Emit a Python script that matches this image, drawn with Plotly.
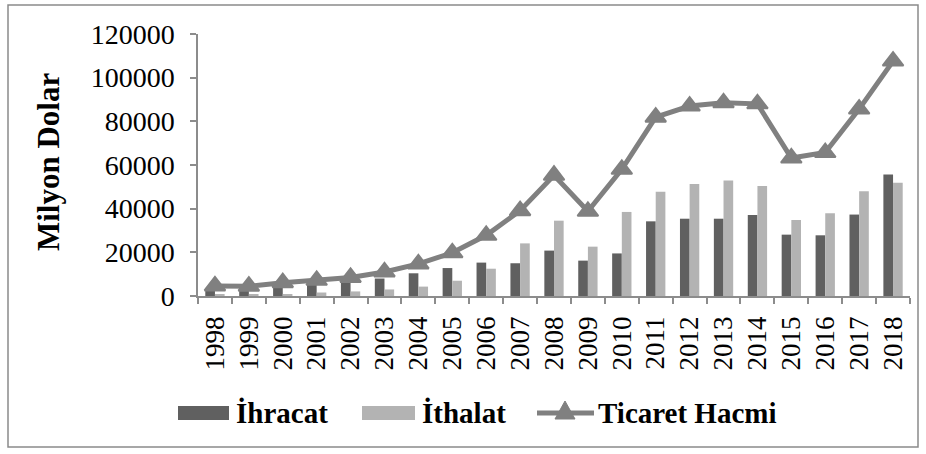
import plotly.graph_objects as go

years = [str(y) for y in range(1998, 2019)]
ihracat = [3700, 3800, 5200, 5600, 6400, 8000, 10400, 12800, 15300, 15000, 20800,
           16200, 19500, 34200, 35400, 35400, 37100, 28100, 27800, 37300, 55600]
ithalat = [900, 700, 900, 1600, 2100, 3000, 4300, 7000, 12500, 24100, 34500,
           22600, 38500, 47700, 51300, 52900, 50400, 34800, 37900, 48000, 51900]
ticaret = [4600, 4500, 6100, 7200, 8500, 11000, 14700, 19800, 27800, 39100, 55300,
           38800, 58000, 81900, 87000, 88500, 88000, 63200, 65700, 85600, 107600]
y_ticks = [0, 20000, 40000, 60000, 80000, 100000, 120000]
series_names = ["İhracat", "İthalat", "Ticaret Hacmi"]
colors = ["#606060", "#b3b3b3", "#808080"]

FONT = "Liberation Serif"
AXIS_GRAY = "#8c8c8c"

# plot area in pixels (for paper-coordinate decorations)
L, R, T, B = 198, 910, 34, 296
W, H = 926, 454


def px(x):
    return (x - L) / (R - L)


def py(y):
    return (B - y) / (B - T)


fig = go.Figure()
fig.add_trace(go.Bar(x=years, y=ihracat, name=series_names[0],
                     marker=dict(color=colors[0], line=dict(width=0))))
fig.add_trace(go.Bar(x=years, y=ithalat, name=series_names[1],
                     marker=dict(color=colors[1], line=dict(width=0))))
fig.add_trace(go.Scatter(x=years, y=ticaret, name=series_names[2],
                         mode="lines+markers",
                         line=dict(color=colors[2], width=5),
                         marker=dict(symbol="triangle-up", size=18, color=colors[2],
                                     line=dict(color=colors[2], width=2))))

# legend drawn as decoration (wide swatches like the original)
leg_y = 413
shapes = [
    dict(type="rect", xref="paper", yref="paper",
         x0=px(8), x1=px(918), y0=py(447), y1=py(5),
         line=dict(color="#8a8a8a", width=1.5), fillcolor="rgba(0,0,0,0)", layer="below"),
    dict(type="rect", xref="paper", yref="paper",
         x0=px(178), x1=px(229), y0=py(leg_y + 7), y1=py(leg_y - 7),
         line=dict(width=0), fillcolor=colors[0]),
    dict(type="rect", xref="paper", yref="paper",
         x0=px(362), x1=px(415), y0=py(leg_y + 7), y1=py(leg_y - 7),
         line=dict(width=0), fillcolor=colors[1]),
    dict(type="line", xref="paper", yref="paper",
         x0=px(537), x1=px(594), y0=py(leg_y), y1=py(leg_y),
         line=dict(color=colors[2], width=5)),
    dict(type="path", xref="paper", yref="paper",
         path=(f"M {px(555)} {py(leg_y + 6)} L {px(575)} {py(leg_y + 6)} "
               f"L {px(565)} {py(leg_y - 12)} Z"),
         line=dict(color=colors[2], width=1), fillcolor=colors[2]),
]
annotations = [
    dict(text="<b>Milyon Dolar</b>", textangle=-90,
         xref="paper", yref="paper", x=px(48), y=py(162),
         xanchor="center", yanchor="middle", showarrow=False,
         font=dict(family=FONT, size=31, color="black")),
]
for name, x0 in zip(series_names, [234, 420, 596]):
    annotations.append(dict(text=f"<b>{name}</b>", xref="paper", yref="paper",
                            x=px(x0), y=py(leg_y), xanchor="left", yanchor="middle",
                            showarrow=False,
                            font=dict(family=FONT, size=29, color="black")))

fig.update_layout(
    width=W, height=H,
    margin=dict(l=L, r=W - R, t=T, b=H - B, autoexpand=False),
    paper_bgcolor="white", plot_bgcolor="white",
    font=dict(family=FONT, color="black", size=27),
    barmode="group", bargap=0.43, bargroupgap=0,
    showlegend=False,
    xaxis=dict(type="category", tickmode="array", tickvals=years, ticktext=years,
               range=[-0.5, len(years) - 0.5], autorange=False,
               tickangle=-90, tickson="boundaries",
               ticks="outside", ticklen=6, tickcolor=AXIS_GRAY, tickwidth=1.5,
               showline=True, linecolor=AXIS_GRAY, linewidth=1.5,
               showgrid=False, ticklabelstandoff=8, automargin=False,
               tickfont=dict(family=FONT, size=27, color="black")),
    yaxis=dict(range=[0, 120000], autorange=False, tickmode="array", tickvals=y_ticks,
               ticktext=[str(v) for v in y_ticks],
               ticks="outside", ticklen=6, tickcolor=AXIS_GRAY, tickwidth=1.5,
               showline=True, linecolor=AXIS_GRAY, linewidth=1.5,
               showgrid=False, zeroline=False, ticklabelstandoff=10, automargin=False,
               tickfont=dict(family=FONT, size=28, color="black")),
    annotations=annotations,
    shapes=shapes,
)

fig.write_html("out.html", config={"displayModeBar": False},
               post_script="document.body.style.margin='0px';")
